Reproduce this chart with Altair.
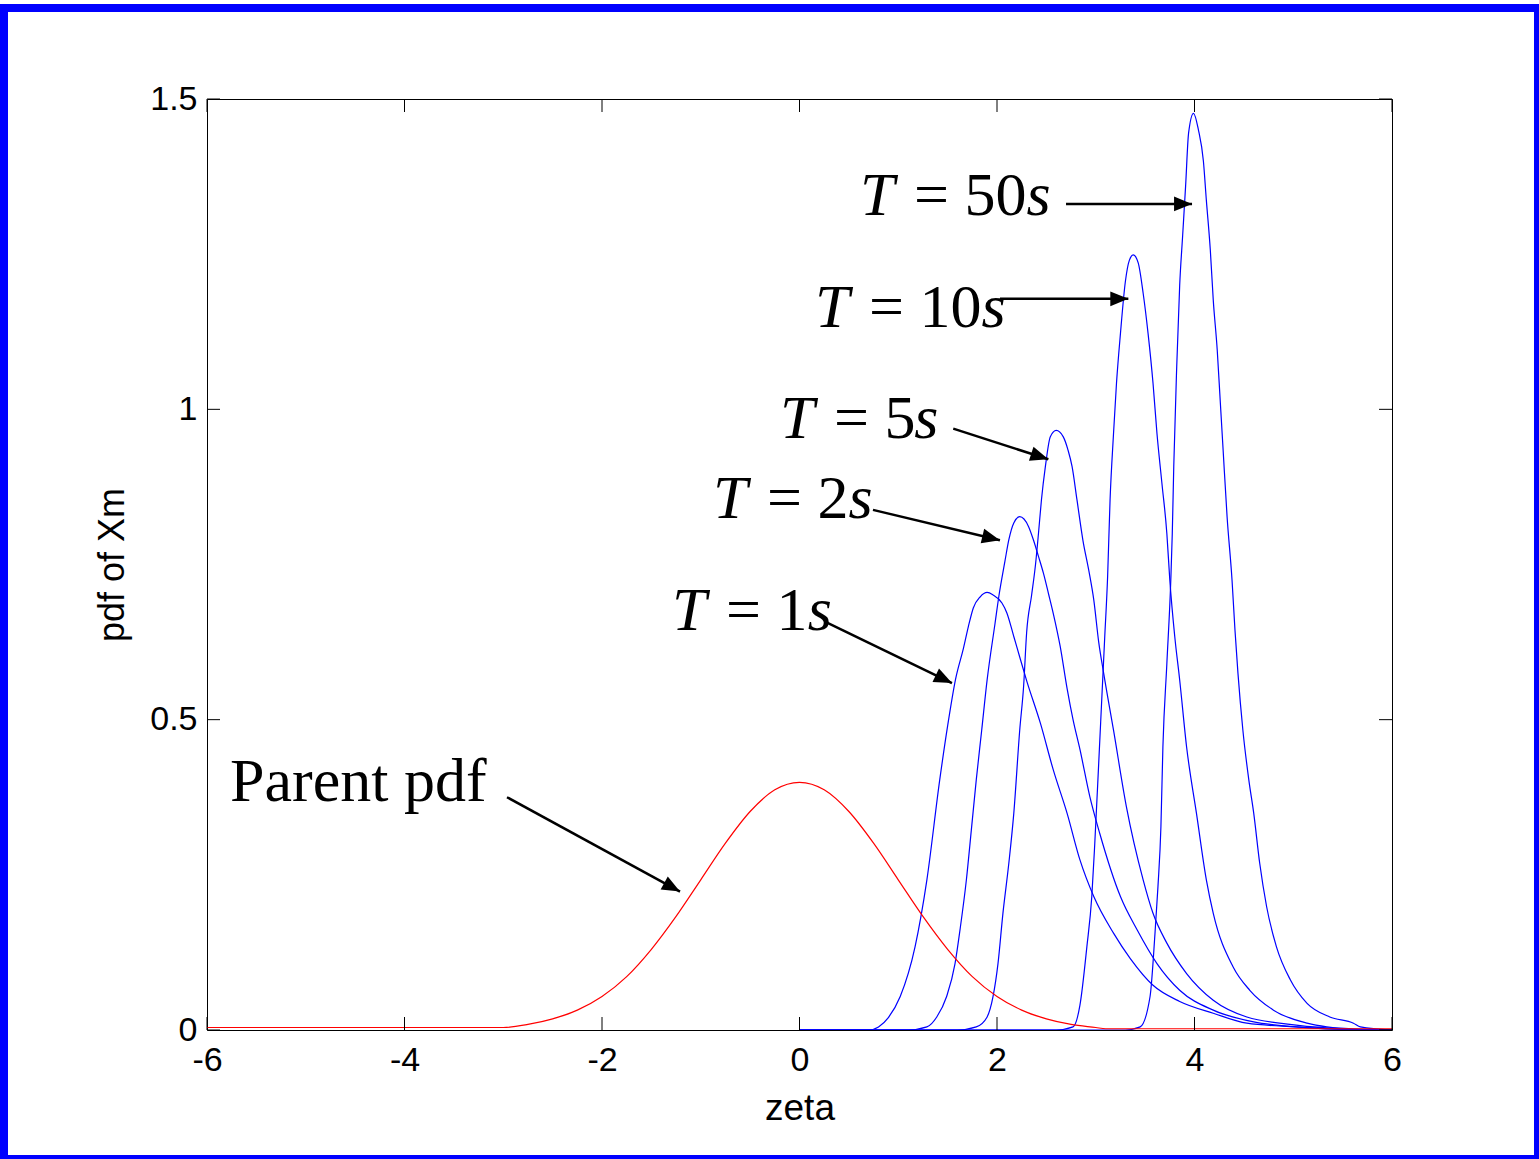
import math
import pandas as pd
import altair as alt

# ---------------- data ----------------
red_x = [-6, -3.0, -2.75, -2.5, -2.25, -2.0, -1.75, -1.5, -1.25, -1.0, -0.75, -0.5, -0.25, 0.0,
         0.25, 0.5, 0.75, 1.0, 1.25, 1.5, 1.75, 2.0, 2.25, 2.5, 2.75, 3.0, 3.1, 6]
red_y = [0.004, 0.004, 0.009, 0.018, 0.032, 0.054, 0.086, 0.130, 0.183, 0.242, 0.301, 0.352, 0.387, 0.399,
         0.387, 0.352, 0.301, 0.242, 0.183, 0.130, 0.086, 0.054, 0.032, 0.018, 0.009, 0.004, 0.002, 0.002]

t1_x = [0, 0.7, 0.8, 0.9, 1.02, 1.17, 1.29, 1.42, 1.5, 1.58, 1.66, 1.71, 1.76, 1.83, 1.90, 1.96, 2.05, 2.10,
        2.17, 2.23, 2.30, 2.44, 2.57, 2.71, 2.84, 2.98, 3.18, 3.35, 3.58, 3.85, 4.19, 4.53, 5.03, 5.5, 6]
t1_y = [0, 0, 0.005, 0.02, 0.054, 0.134, 0.242, 0.403, 0.49, 0.565, 0.615, 0.65, 0.68, 0.698, 0.705, 0.701,
        0.688, 0.672, 0.634, 0.601, 0.563, 0.494, 0.419, 0.349, 0.274, 0.215, 0.156, 0.115, 0.072, 0.046,
        0.027, 0.011, 0.005, 0.001, 0]

t2_x = [0, 1.1, 1.29, 1.39, 1.49, 1.575, 1.625, 1.69, 1.74, 1.79, 1.845, 1.90, 1.98, 2.02, 2.08, 2.12, 2.17,
        2.23, 2.32, 2.37, 2.42, 2.47, 2.52, 2.57, 2.64, 2.71, 2.77, 2.84, 2.94, 3.04, 3.25, 3.42, 3.62, 3.85,
        4.19, 4.60, 5.03, 5.5, 6]
t2_y = [0, 0, 0.005, 0.021, 0.054, 0.107, 0.161, 0.242, 0.322, 0.403, 0.483, 0.564, 0.655, 0.70, 0.755,
        0.79, 0.817, 0.827, 0.811, 0.789, 0.763, 0.736, 0.704, 0.671, 0.618, 0.55, 0.50, 0.452, 0.376,
        0.317, 0.215, 0.161, 0.107, 0.064, 0.032, 0.013, 0.005, 0.001, 0]

t5_x = [0, 1.6, 1.79, 1.90, 1.96, 2.01, 2.06, 2.12, 2.17, 2.23, 2.27, 2.30, 2.35, 2.39, 2.42, 2.45, 2.49,
        2.54, 2.60, 2.67, 2.72, 2.76, 2.81, 2.87, 2.93, 2.98, 3.03, 3.08, 3.18, 3.31, 3.48, 3.58, 3.72,
        3.92, 4.19, 4.53, 5.03, 5.5, 6]
t5_y = [0, 0, 0.005, 0.021, 0.054, 0.107, 0.188, 0.269, 0.349, 0.483, 0.555, 0.64, 0.70, 0.75, 0.80,
        0.854, 0.908, 0.956, 0.966, 0.956, 0.934, 0.908, 0.854, 0.789, 0.740, 0.693, 0.625, 0.575, 0.483,
        0.360, 0.242, 0.188, 0.140, 0.091, 0.048, 0.021, 0.008, 0.002, 0]

t10_x = [0, 2.6, 2.77, 2.84, 2.91, 2.96, 2.99, 3.03, 3.06, 3.09, 3.12, 3.145, 3.18, 3.21, 3.25, 3.30, 3.34,
         3.38, 3.43, 3.48, 3.53, 3.58, 3.62, 3.67, 3.72, 3.75, 3.80, 3.85, 3.92, 4.02, 4.12, 4.19, 4.39,
         4.56, 4.80, 5.14, 5.34, 5.7, 6]
t10_y = [0, 0, 0.005, 0.04, 0.134, 0.215, 0.30, 0.43, 0.53, 0.63, 0.73, 0.854, 0.961, 1.042, 1.122, 1.206,
         1.24, 1.249, 1.236, 1.187, 1.122, 1.042, 0.961, 0.881, 0.800, 0.725, 0.634, 0.564, 0.456, 0.349,
         0.242, 0.188, 0.102, 0.064, 0.032, 0.011, 0.005, 0.001, 0]

t50_x = [0, 3.3, 3.45, 3.55, 3.60, 3.63, 3.66, 3.68, 3.72, 3.76, 3.775, 3.79, 3.82, 3.85, 3.88, 3.91, 3.94,
         3.99, 4.04, 4.09, 4.12, 4.16, 4.19, 4.23, 4.26, 4.29, 4.33, 4.38, 4.41, 4.44, 4.49, 4.55, 4.60,
         4.66, 4.73, 4.83, 4.97, 5.14, 5.37, 5.61, 5.68, 6]
t50_y = [0, 0, 0.005, 0.054, 0.156, 0.231, 0.328, 0.456, 0.59, 0.725, 0.80, 0.908, 1.069, 1.20, 1.28, 1.36,
         1.445, 1.477, 1.450, 1.400, 1.337, 1.257, 1.176, 1.096, 1.015, 0.934, 0.827, 0.725, 0.644, 0.575,
         0.483, 0.403, 0.349, 0.269, 0.199, 0.134, 0.081, 0.043, 0.021, 0.011, 0.005, 0]

# annotation labels (data coordinates)
ann_num = ["50", "10", "5", "2", "1"]
ann_x = [0.613, 0.157, -0.198, -0.876, -1.291]
ann_y = [1.313, 1.133, 0.954, 0.825, 0.644]
ann_s_x = [2.299, 1.843, 1.163, 0.496, 0.084]

parent_label = "Parent pdf"
parent_x = [-5.767]
parent_y = [0.369]

# arrows: start (x1, y1) -> tip (x2, y2), data coordinates
arr_x1 = [2.699, 2.030, 1.557, 0.744, 0.268, -2.962]
arr_y1 = [1.331, 1.178, 0.969, 0.838, 0.657, 0.375]
arr_x2 = [3.975, 3.330, 2.520, 2.030, 1.544, -1.210]
arr_y2 = [1.331, 1.178, 0.9195, 0.789, 0.559, 0.223]

x_ticks = [-6, -4, -2, 0, 2, 4, 6]
y_ticks = [0, 0.5, 1, 1.5]

# ---------------- layout ----------------
W, H = 1185, 931
XD, YD = [-6, 6], [0, 1.5]

frames = []
for name, xs, ys in [("T=1", t1_x, t1_y), ("T=2", t2_x, t2_y), ("T=5", t5_x, t5_y),
                     ("T=10", t10_x, t10_y), ("T=50", t50_x, t50_y)]:
    assert len(xs) == len(ys), name
    frames.append(pd.DataFrame({"x": xs, "y": ys, "series": name}))
blue_df = pd.concat(frames, ignore_index=True)
assert len(red_x) == len(red_y)
red_df = pd.DataFrame({"x": red_x, "y": red_y})

px_per_x = W / (XD[1] - XD[0])
px_per_y = H / (YD[1] - YD[0])
angles = []
for a, b, c, d in zip(arr_x1, arr_y1, arr_x2, arr_y2):
    dxp = (c - a) * px_per_x
    dyp = -(d - b) * px_per_y
    angles.append(math.degrees(math.atan2(dxp, -dyp)))
arr_df = pd.DataFrame({"x1": arr_x1, "y1": arr_y1, "x2": arr_x2, "y2": arr_y2, "angle": angles})

ann_df = pd.DataFrame({"x": ann_x, "y": ann_y, "sx": ann_s_x,
                       "eq": ["= " + n for n in ann_num]})
parent_df = pd.DataFrame({"x": parent_x, "y": parent_y, "label": [parent_label]})

xscale = alt.Scale(domain=XD, nice=False, zero=False)
yscale = alt.Scale(domain=YD, nice=False, zero=False)

x_axis = alt.Axis(values=x_ticks, title="zeta", labelExpr="datum.value + ''", ticks=False, domain=False,
                  grid=False, labelFont="Liberation Sans", labelFontSize=34, labelColor="black",
                  labelPadding=13, labelFlush=False, labelOverlap=False,
                  titleFont="Liberation Sans", titleFontSize=37, titleFontWeight="normal",
                  titleColor="black", titleBaseline="alphabetic", titleY=89)
y_axis = alt.Axis(values=y_ticks, title="pdf of Xm", labelExpr="datum.value + ''", ticks=False,
                  domain=False, grid=False, labelFont="Liberation Sans", labelFontSize=34,
                  labelColor="black", labelPadding=10, labelOverlap=False, labelFlush=False,
                  titleFont="Liberation Sans", titleFontSize=36, titleFontWeight="normal",
                  titleColor="black", titleBaseline="alphabetic", titleAngle=270, titleX=-84,
                  titleY=H / 2, titleAlign="center")


def X(field):
    return alt.X(field, scale=xscale, axis=x_axis, title="zeta")


def Y(field):
    return alt.Y(field, scale=yscale, axis=y_axis, title="pdf of Xm")


one = pd.DataFrame({"a": [0]})


def bar(x1, x2, y1, y2):
    return alt.Chart(one).mark_rect(color="#0000ff").encode(
        x=alt.value(x1), x2=alt.value(x2), y=alt.value(y1), y2=alt.value(y2))


border = [
    bar(-207, -199, -95, 1060),
    bar(-207, 1332, -95, -87),
    bar(1327, 1332, -95, 1060),
    bar(-207, 1332, 1056, 1060),
]

blue = alt.Chart(blue_df).mark_line(color="#0000ff", strokeWidth=1.2, interpolate="monotone", clip=True).encode(
    x=X("x:Q"), y=Y("y:Q"), detail="series:N")
red = alt.Chart(red_df).mark_line(color="#ff0000", strokeWidth=1.2, interpolate="monotone", clip=True).encode(
    x=X("x:Q"), y=Y("y:Q"))

xt_df = pd.DataFrame({"t": x_ticks})
yt_df = pd.DataFrame({"t": y_ticks})
tick_layers = [
    alt.Chart(xt_df).mark_rule(color="black", strokeWidth=1).encode(
        x=X("t:Q"), y=alt.value(H), y2=alt.value(H - 13)),
    alt.Chart(xt_df).mark_rule(color="black", strokeWidth=1).encode(
        x=X("t:Q"), y=alt.value(0), y2=alt.value(13)),
    alt.Chart(yt_df).mark_rule(color="black", strokeWidth=1).encode(
        y=Y("t:Q"), x=alt.value(0), x2=alt.value(13)),
    alt.Chart(yt_df).mark_rule(color="black", strokeWidth=1).encode(
        y=Y("t:Q"), x=alt.value(W), x2=alt.value(W - 13)),
]

arrow_lines = alt.Chart(arr_df).mark_rule(color="black", strokeWidth=2.5).encode(
    x=X("x1:Q"), y=Y("y1:Q"), x2="x2:Q", y2="y2:Q")
arrow_heads = alt.Chart(arr_df).mark_point(shape="M0,0L-0.83,2L0.83,2Z", filled=True, color="black",
                                            opacity=1, size=324, strokeWidth=0).encode(
    x=X("x2:Q"), y=Y("y2:Q"), angle=alt.Angle("angle:Q", scale=None))

serif = "Liberation Serif"
t_text = alt.Chart(ann_df).mark_text(align="left", baseline="alphabetic", font=serif, fontSize=62,
                                     fontStyle="italic", color="black").encode(
    x=X("x:Q"), y=Y("y:Q"), text=alt.value("T"))
eq_text = alt.Chart(ann_df).mark_text(align="left", baseline="alphabetic", font=serif, fontSize=62,
                                      dx=54, color="black").encode(
    x=X("x:Q"), y=Y("y:Q"), text="eq:N")
s_text = alt.Chart(ann_df).mark_text(align="left", baseline="alphabetic", font=serif, fontSize=62,
                                     fontStyle="italic", color="black").encode(
    x=X("sx:Q"), y=Y("y:Q"), text=alt.value("s"))
parent_text = alt.Chart(parent_df).mark_text(align="left", baseline="alphabetic", font=serif, fontSize=62,
                                             color="black").encode(
    x=X("x:Q"), y=Y("y:Q"), text="label:N")

chart = alt.layer(
    blue, red, *tick_layers, arrow_lines, arrow_heads, t_text, eq_text, s_text, parent_text, *border
).properties(
    width=W, height=H,
    padding={"left": 207, "top": 99, "right": 147, "bottom": 129},
    autosize=alt.AutoSizeParams(type="none"),
    background="white",
).configure_view(stroke="black", strokeWidth=1)

chart.save("out.html", embed_options={"renderer": "svg", "actions": False})
